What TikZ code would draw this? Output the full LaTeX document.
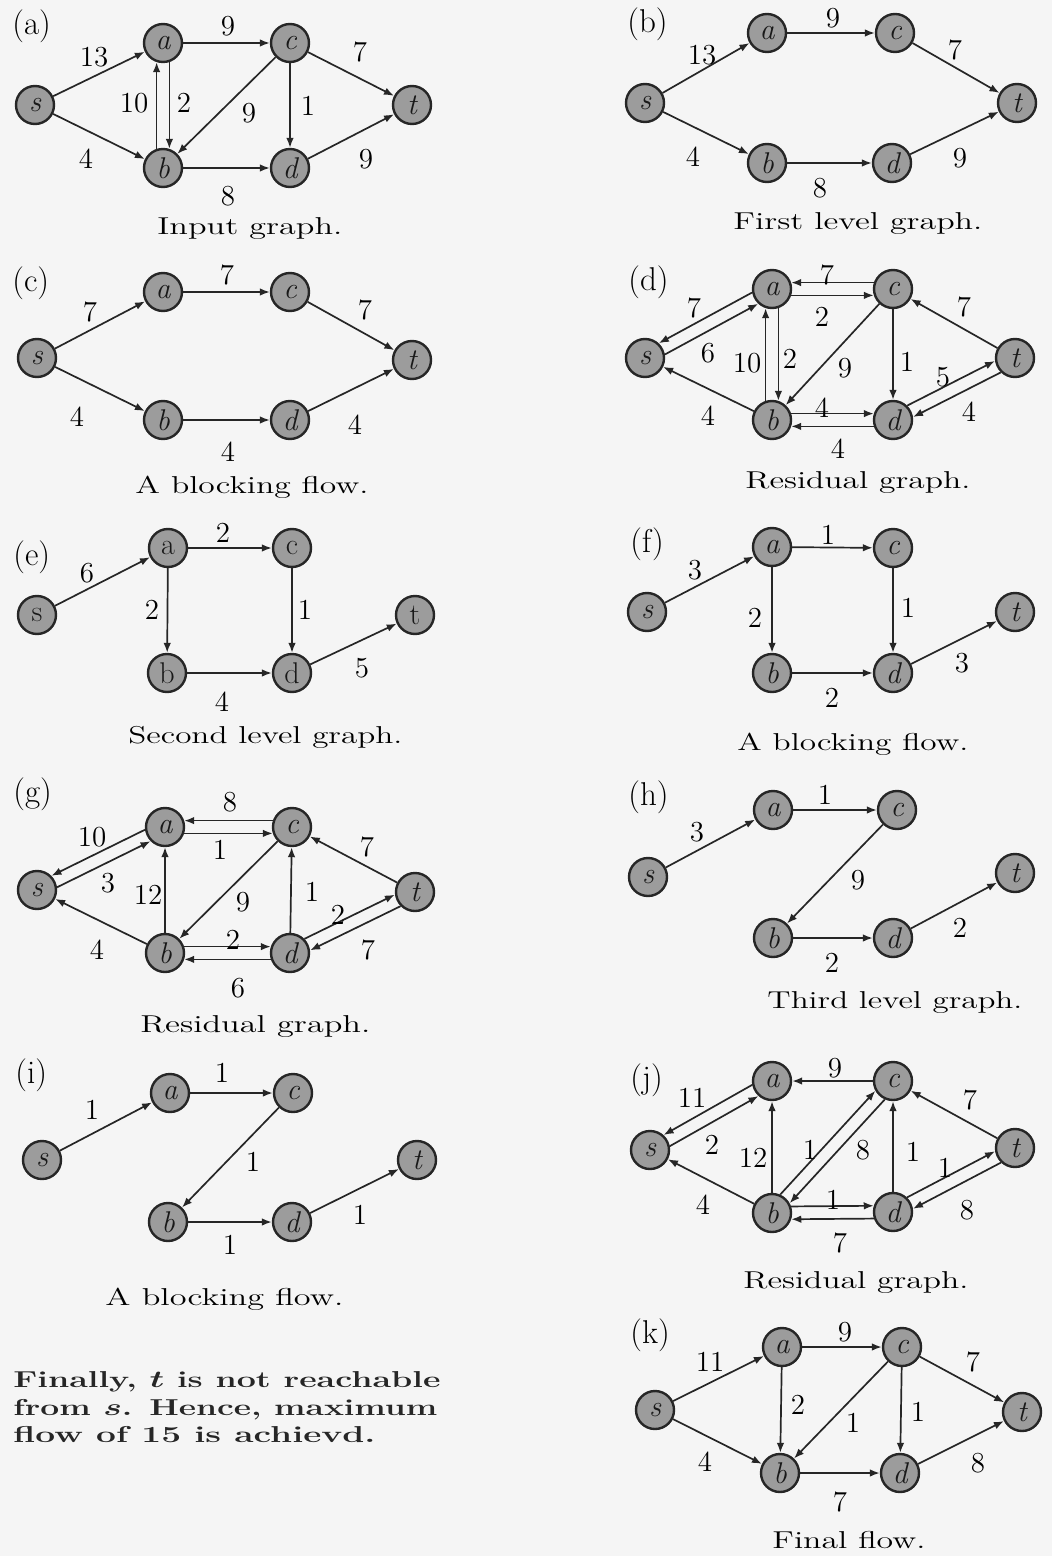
\documentclass[tikz,border=0pt]{standalone}
\usepackage{graphicx}
\usetikzlibrary{arrows.meta,calc}
\def\poff{3.2pt}
\newcommand\peL[2]{\draw[conn,pairshort] ($(#1)!\poff!90:(#2)$) -- ($(#2)!\poff!-90:(#1)$);}
\newcommand\peR[2]{\draw[conn,pairshort] ($(#1)!\poff!-90:(#2)$) -- ($(#2)!\poff!90:(#1)$);}
\newcommand\capt[5]{\node[captxt] (#1) at (#2,#3) {\resizebox{#4pt}{\height}{#5}};}
\tikzset{
 vtx/.style={circle, draw=black!85, line width=1.2pt, fill=gray!78, minimum size=19pt, inner sep=0pt, font=\fontsize{15}{15}\selectfont\itshape, text=black!90},
 upr/.style={font=\fontsize{15}{15}\selectfont\upshape},
 conn/.style={draw=black!85, line width=0.85pt, -{Latex[length=5pt,width=3.8pt]}},
 pairshort/.style={shorten <=9.6pt, shorten >=9.6pt},
 lab/.style={font=\fontsize{14.5}{14.5}\selectfont, inner sep=0pt, text=black},
 tagtxt/.style={font=\fontsize{16.5}{16.5}\selectfont, anchor=base west, inner sep=0pt, text=black},
 captxt/.style={font=\fontsize{12.2}{14}\selectfont, anchor=base west, inner sep=0pt, text=black},
 paratxt/.style={font=\fontsize{11.5}{13}\selectfont\bfseries\boldmath, anchor=base west, inner sep=0pt, text=black!85},
}
\begin{document}
\begin{tikzpicture}[x=0.5pt,y=-0.5pt]
\useasboundingbox (0,0) rectangle (1052,1556);
\fill[gray!8] (0,0) rectangle (1052,1556);

% ---------------- (a)
\node[tagtxt] (Atag) at (12,35) {(a)};
\node[vtx] (As) at (35,105) {s};
\node[vtx] (Aa) at (163,43) {a};
\node[vtx] (Ac) at (290,43) {c};
\node[vtx] (At) at (412,105) {t};
\node[vtx] (Ab) at (163,168) {b};
\node[vtx] (Ad) at (290,168) {d};
\draw[conn] (As)--(Aa);
\draw[conn] (As)--(Ab);
\draw[conn] (Aa)--(Ac);
\draw[conn] (Ac)--(At);
\draw[conn] (Ab)--(Ad);
\draw[conn] (Ad)--(At);
\draw[conn] (Ac)--(Ad);
\draw[conn] (Ac)--(Ab);
\peL{Ab}{Aa}
\peL{Aa}{Ab}
\node[lab] (Al1) at (94,57) {13};
\node[lab] (Al2) at (228,26) {9};
\node[lab] (Al3) at (360,52) {7};
\node[lab] (Al4) at (134,103) {10};
\node[lab] (Al5) at (184,103) {2};
\node[lab] (Al6) at (249,113) {9};
\node[lab] (Al7) at (308,106) {1};
\node[lab] (Al8) at (86,159) {4};
\node[lab] (Al9) at (228,196) {8};
\node[lab] (Al10) at (366,159) {9};
\capt{Acap}{157}{235}{92.5}{Input graph.}

% ---------------- (b)
\node[tagtxt] (Btag) at (627,33) {(b)};
\node[vtx] (Bs) at (645,103) {s};
\node[vtx] (Ba) at (767,33) {a};
\node[vtx] (Bc) at (895,33) {c};
\node[vtx] (Bt) at (1017,103) {t};
\node[vtx] (Bb) at (767,163) {b};
\node[vtx] (Bd) at (892,163) {d};
\draw[conn] (Bs)--(Ba);
\draw[conn] (Bs)--(Bb);
\draw[conn] (Ba)--(Bc);
\draw[conn] (Bc)--(Bt);
\draw[conn] (Bb)--(Bd);
\draw[conn] (Bd)--(Bt);
\node[lab] (Bl1) at (702,55) {13};
\node[lab] (Bl2) at (833,18) {9};
\node[lab] (Bl3) at (955,50) {7};
\node[lab] (Bl4) at (693,157) {4};
\node[lab] (Bl5) at (820,188) {8};
\node[lab] (Bl6) at (960,158) {9};
\capt{Bcap}{733}{230}{124.5}{First level graph.}

% ---------------- (c)
\node[tagtxt] (Ctag) at (12,292) {(c)};
\node[vtx] (Cs) at (37,358) {s};
\node[vtx] (Ca) at (163,292) {a};
\node[vtx] (Cc) at (290,292) {c};
\node[vtx] (Ct) at (412,360) {t};
\node[vtx] (Cb) at (163,420) {b};
\node[vtx] (Cd) at (290,420) {d};
\draw[conn] (Cs)--(Ca);
\draw[conn] (Cs)--(Cb);
\draw[conn] (Ca)--(Cc);
\draw[conn] (Cc)--(Ct);
\draw[conn] (Cb)--(Cd);
\draw[conn] (Cd)--(Ct);
\node[lab] (Cl1) at (90,312) {7};
\node[lab] (Cl2) at (227,275) {7};
\node[lab] (Cl3) at (365,310) {7};
\node[lab] (Cl4) at (77,417) {4};
\node[lab] (Cl5) at (228,452) {4};
\node[lab] (Cl6) at (355,425) {4};
\capt{Ccap}{135}{493}{116.5}{A blocking flow.}

% ---------------- (d)
\node[tagtxt] (Dtag) at (628,291) {(d)};
\node[vtx] (Ds) at (645,358) {s};
\node[vtx] (Da) at (772,289) {a};
\node[vtx] (Dc) at (893,289) {c};
\node[vtx] (Dt) at (1015,358) {t};
\node[vtx] (Db) at (772,420) {b};
\node[vtx] (Dd) at (893,420) {d};
\peR{Ds}{Da}
\peR{Da}{Ds}
\peR{Da}{Dc}
\peR{Dc}{Da}
\peL{Db}{Da}
\peL{Da}{Db}
\draw[conn] (Dc)--(Db);
\draw[conn] (Dc)--(Dd);
\draw[conn] (Dt)--(Dc);
\draw[conn] (Db)--(Ds);
\peL{Dd}{Dt}
\peL{Dt}{Dd}
\peL{Db}{Dd}
\peL{Dd}{Db}
\node[lab] (Dl1) at (694,308) {7};
\node[lab] (Dl2) at (708,353) {6};
\node[lab] (Dl3) at (827,275) {7};
\node[lab] (Dl4) at (822,317) {2};
\node[lab] (Dl5) at (747,363) {10};
\node[lab] (Dl6) at (790,359) {2};
\node[lab] (Dl7) at (845,368) {9};
\node[lab] (Dl8) at (907,362) {1};
\node[lab] (Dl9) at (964,307) {7};
\node[lab] (Dl10) at (943,377) {5};
\node[lab] (Dl11) at (969,412) {4};
\node[lab] (Dl12) at (708,416) {4};
\node[lab] (Dl13) at (822,408) {4};
\node[lab] (Dl14) at (838,449) {4};
\capt{Dcap}{745}{488}{112.5}{Residual graph.}

% ---------------- (e)
\node[tagtxt] (Etag) at (13,565) {(e)};
\node[vtx,upr] (Es) at (37,615) {s};
\node[vtx,upr] (Ea) at (168,548) {a};
\node[vtx,upr] (Ec) at (292,548) {c};
\node[vtx,upr] (Et) at (415,615) {t};
\node[vtx,upr] (Eb) at (167,673) {b};
\node[vtx,upr] (Ed) at (292,673) {d};
\draw[conn] (Es)--(Ea);
\draw[conn] (Ea)--(Ec);
\draw[conn] (Ea)--(Eb);
\draw[conn] (Ec)--(Ed);
\draw[conn] (Eb)--(Ed);
\draw[conn] (Ed)--(Et);
\node[lab] (El1) at (87,573) {6};
\node[lab] (El2) at (223,533) {2};
\node[lab] (El3) at (152,610) {2};
\node[lab] (El4) at (305,610) {1};
\node[lab] (El5) at (362,668) {5};
\node[lab] (El6) at (222,702) {4};
\capt{Ecap}{128}{743}{137}{Second level graph.}

% ---------------- (f)
\node[tagtxt] (Ftag) at (630,552) {(f)};
\node[vtx] (Fs) at (647,612) {s};
\node[vtx] (Fa) at (772,547) {a};
\node[vtx] (Fc) at (893,548) {c};
\node[vtx] (Ft) at (1015,612) {t};
\node[vtx] (Fb) at (772,673) {b};
\node[vtx] (Fd) at (893,673) {d};
\draw[conn] (Fs)--(Fa);
\draw[conn] (Fa)--(Fc);
\draw[conn] (Fa)--(Fb);
\draw[conn] (Fc)--(Fd);
\draw[conn] (Fb)--(Fd);
\draw[conn] (Fd)--(Ft);
\node[lab] (Fl1) at (695,570) {3};
\node[lab] (Fl2) at (828,535) {1};
\node[lab] (Fl3) at (755,618) {2};
\node[lab] (Fl4) at (908,608) {1};
\node[lab] (Fl5) at (962,663) {3};
\node[lab] (Fl6) at (832,698) {2};
\capt{Fcap}{737}{750}{115.5}{A blocking flow.}

% ---------------- (g)
\node[tagtxt] (Gtag) at (13,802) {(g)};
\node[vtx] (Gs) at (37,890) {s};
\node[vtx] (Ga) at (165,827) {a};
\node[vtx] (Gc) at (292,827) {c};
\node[vtx] (Gt) at (415,892) {t};
\node[vtx] (Gb) at (165,953) {b};
\node[vtx] (Gd) at (290,953) {d};
\peR{Gs}{Ga}
\peR{Ga}{Gs}
\peR{Ga}{Gc}
\peR{Gc}{Ga}
\draw[conn] (Gb)--(Ga);
\draw[conn] (Gc)--(Gb);
\draw[conn] (Gd)--(Gc);
\draw[conn] (Gt)--(Gc);
\draw[conn] (Gb)--(Gs);
\peL{Gd}{Gt}
\peL{Gt}{Gd}
\peL{Gb}{Gd}
\peL{Gd}{Gb}
\node[lab] (Gl1) at (92,837) {10};
\node[lab] (Gl2) at (108,883) {3};
\node[lab] (Gl3) at (230,802) {8};
\node[lab] (Gl4) at (220,850) {1};
\node[lab] (Gl5) at (148,895) {12};
\node[lab] (Gl6) at (243,902) {9};
\node[lab] (Gl7) at (312,892) {1};
\node[lab] (Gl8) at (367,847) {7};
\node[lab] (Gl9) at (338,915) {2};
\node[lab] (Gl10) at (368,950) {7};
\node[lab] (Gl11) at (97,950) {4};
\node[lab] (Gl12) at (233,940) {2};
\node[lab] (Gl13) at (238,988) {6};
\capt{Gcap}{140}{1032}{115}{Residual graph.}

% ---------------- (h)
\node[tagtxt] (Htag) at (628,805) {(h)};
\node[vtx] (Hs) at (648,877) {s};
\node[vtx] (Ha) at (773,810) {a};
\node[vtx] (Hc) at (897,810) {c};
\node[vtx] (Ht) at (1015,873) {t};
\node[vtx] (Hb) at (773,938) {b};
\node[vtx] (Hd) at (893,938) {d};
\draw[conn] (Hs)--(Ha);
\draw[conn] (Ha)--(Hc);
\draw[conn] (Hc)--(Hb);
\draw[conn] (Hb)--(Hd);
\draw[conn] (Hd)--(Ht);
\node[lab] (Hl1) at (697,832) {3};
\node[lab] (Hl2) at (825,795) {1};
\node[lab] (Hl3) at (858,880) {9};
\node[lab] (Hl4) at (960,928) {2};
\node[lab] (Hl5) at (832,963) {2};
\capt{Hcap}{767}{1008}{127.5}{Third level graph.}

% ---------------- (i)
\node[tagtxt] (Itag) at (15,1083) {(i)};
\node[vtx] (Is) at (42,1160) {s};
\node[vtx] (Ia) at (170,1093) {a};
\node[vtx] (Ic) at (293,1093) {c};
\node[vtx] (It) at (417,1160) {t};
\node[vtx] (Ib) at (168,1222) {b};
\node[vtx] (Id) at (292,1222) {d};
\draw[conn] (Is)--(Ia);
\draw[conn] (Ia)--(Ic);
\draw[conn] (Ic)--(Ib);
\draw[conn] (Ib)--(Id);
\draw[conn] (Id)--(It);
\node[lab] (Il1) at (92,1110) {1};
\node[lab] (Il2) at (222,1073) {1};
\node[lab] (Il3) at (253,1162) {1};
\node[lab] (Il4) at (360,1215) {1};
\node[lab] (Il5) at (230,1245) {1};
\capt{Icap}{105}{1305}{119}{A blocking flow.}

% ---------------- (j)
\node[tagtxt] (Jtag) at (630,1088) {(j)};
\node[vtx] (Js) at (650,1150) {s};
\node[vtx] (Ja) at (772,1081) {a};
\node[vtx] (Jc) at (893,1081) {c};
\node[vtx] (Jt) at (1015,1148) {t};
\node[vtx] (Jb) at (772,1213) {b};
\node[vtx] (Jd) at (893,1212) {d};
\peR{Js}{Ja}
\peR{Ja}{Js}
\draw[conn] (Jc)--(Ja);
\draw[conn] (Jb)--(Ja);
\peL{Jb}{Jc}
\peL{Jc}{Jb}
\draw[conn] (Jd)--(Jc);
\draw[conn] (Jt)--(Jc);
\draw[conn] (Jb)--(Js);
\peL{Jd}{Jt}
\peL{Jt}{Jd}
\peL{Jb}{Jd}
\peL{Jd}{Jb}
\node[lab] (Jl1) at (692,1098) {11};
\node[lab] (Jl2) at (712,1145) {2};
\node[lab] (Jl3) at (835,1068) {9};
\node[lab] (Jl4) at (753,1158) {12};
\node[lab] (Jl5) at (810,1150) {1};
\node[lab] (Jl6) at (863,1150) {8};
\node[lab] (Jl7) at (913,1152) {1};
\node[lab] (Jl8) at (970,1100) {7};
\node[lab] (Jl9) at (945,1168) {1};
\node[lab] (Jl10) at (967,1210) {8};
\node[lab] (Jl11) at (703,1205) {4};
\node[lab] (Jl12) at (833,1200) {1};
\node[lab] (Jl13) at (840,1243) {7};
\capt{Jcap}{743}{1288}{112.5}{Residual graph.}

% ---------------- (k)
\node[tagtxt] (Ktag) at (630,1343) {(k)};
\node[vtx] (Ks) at (655,1410) {s};
\node[vtx] (Ka) at (782,1347) {a};
\node[vtx] (Kc) at (902,1347) {c};
\node[vtx] (Kt) at (1022,1412) {t};
\node[vtx] (Kb) at (780,1473) {b};
\node[vtx] (Kd) at (900,1473) {d};
\draw[conn] (Ks)--(Ka);
\draw[conn] (Ks)--(Kb);
\draw[conn] (Ka)--(Kc);
\draw[conn] (Ka)--(Kb);
\draw[conn] (Kc)--(Kb);
\draw[conn] (Kc)--(Kd);
\draw[conn] (Kc)--(Kt);
\draw[conn] (Kb)--(Kd);
\draw[conn] (Kd)--(Kt);
\node[lab] (Kl1) at (710,1362) {11};
\node[lab] (Kl2) at (845,1332) {9};
\node[lab] (Kl3) at (973,1362) {7};
\node[lab] (Kl4) at (798,1405) {2};
\node[lab] (Kl5) at (853,1423) {1};
\node[lab] (Kl6) at (918,1412) {1};
\node[lab] (Kl7) at (705,1462) {4};
\node[lab] (Kl8) at (840,1502) {7};
\node[lab] (Kl9) at (978,1463) {8};
\capt{Kcap}{772}{1548}{76.5}{Final flow.}

% ---------------- closing text
\node[paratxt] (T1) at (13,1387) {\resizebox{213.5pt}{\height}{Finally, $t$ is not reachable}};
\node[paratxt] (T2) at (13,1415) {\resizebox{212pt}{\height}{from $s$. Hence, maximum}};
\node[paratxt] (T3) at (13,1442) {\resizebox{181pt}{\height}{flow of 15 is achievd.}};
\end{tikzpicture}
\end{document}
